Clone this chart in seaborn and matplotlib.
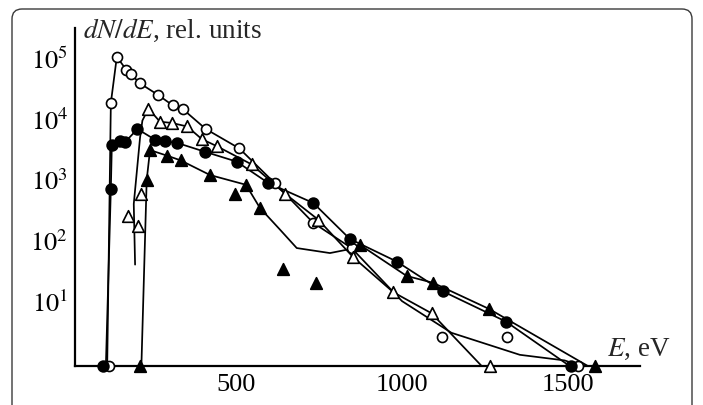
import numpy as np
import pandas as pd
import matplotlib
matplotlib.use("Agg")
import matplotlib.pyplot as plt
from matplotlib.patches import FancyBboxPatch
import seaborn as sns

# value used for points sitting on the energy axis (zero counts)
FLOOR = 0.85

# open circles
oc_x = [118, 123, 141, 169, 184, 211, 266, 309, 341, 409, 510, 617, 733, 848, 1120, 1315, 1531]
oc_y = [FLOOR, 1.86e4, 1.07e5, 6.6e4, 5.5e4, 3.9e4, 2.5e4, 1.7e4, 1.45e4, 6.9e3, 3.3e3, 880, 195, 75, 2.6, 2.6, FLOOR]
oc_curve_x = [112, 123, 141, 169, 184, 211, 266, 309, 341, 409, 510, 617, 733, 848, 1000, 1149, 1355, 1490, 1540]
oc_curve_y = [FLOOR, 1.86e4, 1.07e5, 6.6e4, 5.5e4, 3.9e4, 2.5e4, 1.7e4, 1.45e4, 6.9e3, 3.3e3, 880, 195, 75, 10, 3, 1.3, 1.05, FLOOR]

# filled circles
fc_x = [100, 123, 126, 151, 166, 203, 256, 286, 321, 407, 502, 597, 733, 843, 984, 1123, 1313, 1510]
fc_y = [FLOOR, 710, 3800, 4300, 4200, 6900, 4600, 4300, 4100, 2900, 2000, 890, 415, 106, 45, 14.5, 4.6, FLOOR]
fc_curve_x = [108, 123, 126, 151, 166, 203, 256, 286, 321, 407, 502, 597, 733, 843, 984, 1123, 1313, 1505]
fc_curve_y = [FLOOR, 710, 3800, 4300, 4200, 6900, 4600, 4300, 4100, 2900, 2000, 890, 415, 106, 45, 14.5, 4.6, FLOOR]

# open triangles
ot_x = [174, 206, 214, 236, 271, 306, 353, 397, 442, 547, 648, 748, 853, 974, 1089, 1265]
ot_y = [257, 175, 590, 1.5e4, 9100, 8700, 7600, 4700, 3600, 1800, 590, 220, 53, 14, 6.3, FLOOR]
ot_curve_x = [196, 192, 211, 218, 236, 271, 306, 353, 397, 442, 547, 648, 748, 853, 974, 1089, 1240]
ot_curve_y = [40, 400, 5000, 9500, 1.5e4, 9100, 8700, 7600, 4700, 3600, 1800, 590, 220, 53, 14, 6.3, FLOOR]

# filled triangles
ft_x = [211, 231, 241, 293, 333, 422, 497, 530, 572, 642, 741, 873, 1014, 1094, 1263, 1581]
ft_y = [FLOOR, 1000, 3100, 2500, 2100, 1200, 590, 830, 345, 34, 20, 85, 26, 20, 7.4, FLOOR]
ft_curve_x = [215, 231, 241, 293, 333, 422, 530, 572, 633, 683, 783, 843, 873, 1014, 1094, 1263, 1560]
ft_curve_y = [FLOOR, 1000, 3100, 2500, 2100, 1200, 830, 345, 150, 75, 62, 72, 85, 26, 20, 7.4, FLOOR]

sns.set_style("white")
plt.rcParams["font.family"] = ["Liberation Serif", "DejaVu Serif"]
plt.rcParams["mathtext.fontset"] = "stix"

fig = plt.figure(figsize=(7.03, 4.05), dpi=100)
ax = fig.add_axes([75 / 703, 1 - 366 / 405, 565 / 703, 338 / 405])

curves = [(oc_curve_x, oc_curve_y), (fc_curve_x, fc_curve_y),
          (ot_curve_x, ot_curve_y), (ft_curve_x, ft_curve_y)]
for cx, cy in curves:
    sns.lineplot(x=cx, y=cy, sort=False, estimator=None, color="black",
                 linewidth=1.25, ax=ax, clip_on=False)

markers = [(oc_x, oc_y, "o", "white", 52), (fc_x, fc_y, "o", "black", 60),
           (ot_x, ot_y, "^", "white", 70), (ft_x, ft_y, "^", "black", 70)]
for mx, my, m, fill, s in markers:
    sns.scatterplot(x=mx, y=my, marker=m, color=fill, edgecolor="black",
                    linewidth=1.2, s=s, ax=ax, clip_on=False, zorder=3)

ax.set_yscale("log")
ax.set_xlim(15, 1717)
ax.set_ylim(FLOOR, 3.2e5)

ax.set_yticks([1e1, 1e2, 1e3, 1e4, 1e5],
              labels=[r"$10^{1}$", r"$10^{2}$", r"$10^{3}$", r"$10^{4}$", r"$10^{5}$"])
ax.set_xticks([500, 1000, 1500], labels=["500", "1000", "1500"])
ax.minorticks_off()
ax.tick_params(axis="both", direction="in", length=7, width=1.6,
               labelsize=19, colors="black")
ax.tick_params(axis="y", pad=5)
ax.tick_params(axis="x", pad=6)

for side in ["top", "right"]:
    ax.spines[side].set_visible(False)
for side in ["left", "bottom"]:
    ax.spines[side].set_linewidth(1.6)
    ax.spines[side].set_color("black")

fig.text(83 / 703, 1 - 38 / 405, r"$dN/dE$, rel. units", fontsize=19.5,
         va="baseline", ha="left")
fig.text(607 / 703, 1 - 356 / 405, r"$E$, eV", fontsize=19.5,
         va="baseline", ha="left")

# rounded frame around the figure panel
frame = FancyBboxPatch((0.12, -0.3), 6.8, 4.26,
                       boxstyle="round,pad=0,rounding_size=0.1",
                       transform=fig.dpi_scale_trans, fill=False,
                       edgecolor="#3a3a3a", linewidth=1.0)
fig.patches.append(frame)

fig.savefig("out.png", dpi=100)
